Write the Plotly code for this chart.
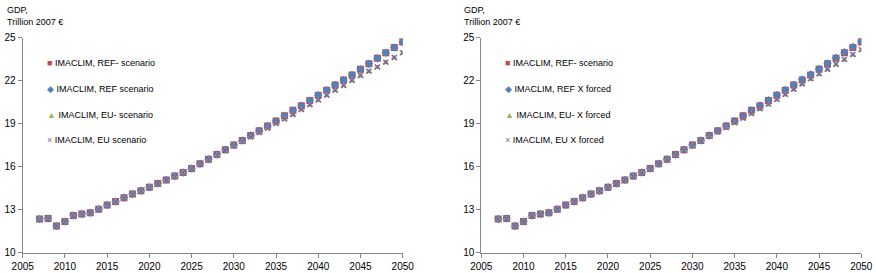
import plotly.graph_objects as go

years = list(range(2007, 2051))

ref_minus = [12.35, 12.38, 11.87, 12.17, 12.60, 12.70, 12.78, 13.04, 13.32, 13.57,
             13.83, 14.09, 14.32, 14.57, 14.82, 15.08, 15.35, 15.60, 15.87, 16.20,
             16.52, 16.85, 17.18, 17.52, 17.83, 18.18, 18.50, 18.84, 19.18, 19.55,
             19.93, 20.25, 20.61, 20.98, 21.33, 21.70, 22.05, 22.40, 22.80, 23.18,
             23.57, 23.95, 24.32, 24.70]
ref = [12.35, 12.38, 11.87, 12.17, 12.60, 12.70, 12.78, 13.04, 13.32, 13.57,
       13.83, 14.09, 14.32, 14.57, 14.82, 15.08, 15.35, 15.60, 15.87, 16.20,
       16.52, 16.85, 17.18, 17.52, 17.83, 18.18, 18.50, 18.84, 19.18, 19.55,
       19.93, 20.25, 20.61, 20.98, 21.33, 21.70, 22.05, 22.40, 22.80, 23.18,
       23.57, 23.95, 24.32, 24.70]
eu_minus = [12.33, 12.36, 11.85, 12.15, 12.58, 12.68, 12.76, 13.02, 13.30, 13.55,
            13.81, 14.07, 14.30, 14.55, 14.80, 15.06, 15.32, 15.57, 15.84, 16.16,
            16.48, 16.80, 17.12, 17.44, 17.74, 18.06, 18.36, 18.66, 19.00, 19.31,
            19.63, 19.98, 20.31, 20.63, 20.96, 21.31, 21.64, 21.99, 22.34, 22.64,
            22.94, 23.27, 23.60, 23.93]
eu = [12.35, 12.38, 11.87, 12.17, 12.60, 12.70, 12.78, 13.04, 13.32, 13.57,
      13.83, 14.09, 14.32, 14.57, 14.82, 15.08, 15.34, 15.59, 15.86, 16.18,
      16.50, 16.82, 17.14, 17.46, 17.76, 18.08, 18.38, 18.68, 19.02, 19.33,
      19.65, 20.00, 20.33, 20.65, 20.98, 21.33, 21.66, 22.01, 22.36, 22.66,
      22.96, 23.29, 23.62, 23.95]

ref_x_forced = [12.35, 12.38, 11.87, 12.17, 12.60, 12.70, 12.78, 13.04, 13.32, 13.57,
                13.83, 14.09, 14.32, 14.57, 14.82, 15.08, 15.35, 15.60, 15.87, 16.20,
                16.52, 16.85, 17.18, 17.52, 17.83, 18.18, 18.50, 18.84, 19.18, 19.56,
                19.93, 20.27, 20.63, 21.00, 21.35, 21.72, 22.08, 22.44, 22.82, 23.20,
                23.60, 23.98, 24.36, 24.74]
eu_minus_x_forced = [12.33, 12.36, 11.85, 12.15, 12.58, 12.68, 12.76, 13.02, 13.30, 13.55,
                     13.81, 14.07, 14.30, 14.55, 14.80, 15.06, 15.32, 15.57, 15.84, 16.16,
                     16.48, 16.80, 17.13, 17.46, 17.77, 18.10, 18.41, 18.72, 19.04, 19.35,
                     19.68, 20.01, 20.33, 20.66, 21.01, 21.36, 21.74, 22.09, 22.44, 22.76,
                     23.11, 23.44, 23.79, 24.12]
eu_x_forced = [12.35, 12.38, 11.87, 12.17, 12.60, 12.70, 12.78, 13.04, 13.32, 13.57,
               13.83, 14.09, 14.32, 14.57, 14.82, 15.08, 15.34, 15.59, 15.86, 16.18,
               16.50, 16.82, 17.15, 17.48, 17.79, 18.12, 18.43, 18.74, 19.06, 19.39,
               19.72, 20.05, 20.37, 20.70, 21.05, 21.40, 21.78, 22.13, 22.48, 22.80,
               23.15, 23.48, 23.83, 24.16]

left_names = ["IMACLIM, REF- scenario", "IMACLIM, REF scenario",
              "IMACLIM, EU- scenario", "IMACLIM, EU scenario"]
right_names = ["IMACLIM, REF- scenario", "IMACLIM, REF X forced",
               "IMACLIM, EU- X forced", "IMACLIM, EU X forced"]

y_ticks = [10, 13, 16, 19, 22, 25]
x_ticks = list(range(2005, 2051, 5))

RED, BLUE, GREEN, PURPLE = "#C0504D", "#4F81BD", "#9BBB59", "#8064A2"
styles = [("square", RED, 7), ("diamond", BLUE, 6.5),
          ("triangle-up", GREEN, 6), ("x-thin", PURPLE, 5)]
glyphs = ["■", "◆", "▲", "×"]

W, H = 876, 273
FONT = "Liberation Sans, Arial, sans-serif"

fig = go.Figure()

left_series = [ref_minus, ref, eu_minus, eu]
right_series = [ref_minus, ref_x_forced, eu_minus_x_forced, eu_x_forced]

for axis_suffix, series, names in [("", left_series, left_names),
                                   ("2", right_series, right_names)]:
    for (sym, col, sz), vals, nm in zip(styles, series, names):
        marker = dict(symbol=sym, color=col, size=sz)
        if sym == "x-thin":
            marker["line"] = dict(color=col, width=1.5)
        fig.add_trace(go.Scatter(x=years, y=vals, mode="markers", name=nm,
                                 marker=marker, showlegend=False,
                                 xaxis="x" + axis_suffix, yaxis="y" + axis_suffix))

x1 = (22.7 / W, 402.7 / W)
x2 = (481.3 / W, 861.3 / W)
yd = (1 - 252.7 / H, 1 - 37.7 / H)

axis_common = dict(showgrid=False, zeroline=False, showline=True, automargin=False,
                   linecolor="#868686", linewidth=1, ticks="outside",
                   tickcolor="#868686", ticklen=4, tickwidth=1,
                   tickfont=dict(family=FONT, size=10, color="#000000"))

fig.update_layout(
    width=W, height=H,
    margin=dict(l=0, r=0, t=0, b=0, autoexpand=False),
    plot_bgcolor="white", paper_bgcolor="white",
    xaxis=dict(domain=x1, range=[2005, 2050], tickvals=x_ticks, anchor="y", **axis_common),
    yaxis=dict(domain=yd, range=[10, 25], tickvals=y_ticks, anchor="x", **axis_common),
    xaxis2=dict(domain=x2, range=[2005, 2050], tickvals=x_ticks, anchor="y2", **axis_common),
    yaxis2=dict(domain=yd, range=[10, 25], tickvals=y_ticks, anchor="x2", **axis_common),
    showlegend=False,
)

annotations = []
for x0 in [5, 462]:
    annotations.append(dict(x=x0 / W, y=1 - 10 / H, xref="paper", yref="paper",
                            text="GDP,", showarrow=False, xanchor="left", yanchor="middle",
                            font=dict(family=FONT, size=9, color="#000000")))
    annotations.append(dict(x=x0 / W, y=1 - 22 / H, xref="paper", yref="paper",
                            text="Trillion 2007 €", showarrow=False, xanchor="left",
                            yanchor="middle", font=dict(family=FONT, size=9, color="#000000")))

legend_rows = [63, 89, 114.5, 140]
for mx, names in [(45, left_names), (503, right_names)]:
    for (sym, col, sz), g, nm, yy in zip(styles, glyphs, names, legend_rows):
        annotations.append(dict(x=mx / W, y=1 - yy / H, xref="paper", yref="paper",
                                text=f'<span style="color:{col}">{g}</span> {nm}',
                                showarrow=False, xanchor="left", yanchor="middle",
                                font=dict(family=FONT, size=9, color="#000000")))

fig.update_layout(annotations=annotations)

fig.write_html("out.html",
               config={"displayModeBar": False},
               post_script="document.body.style.margin='0';document.body.style.overflow='hidden';")
